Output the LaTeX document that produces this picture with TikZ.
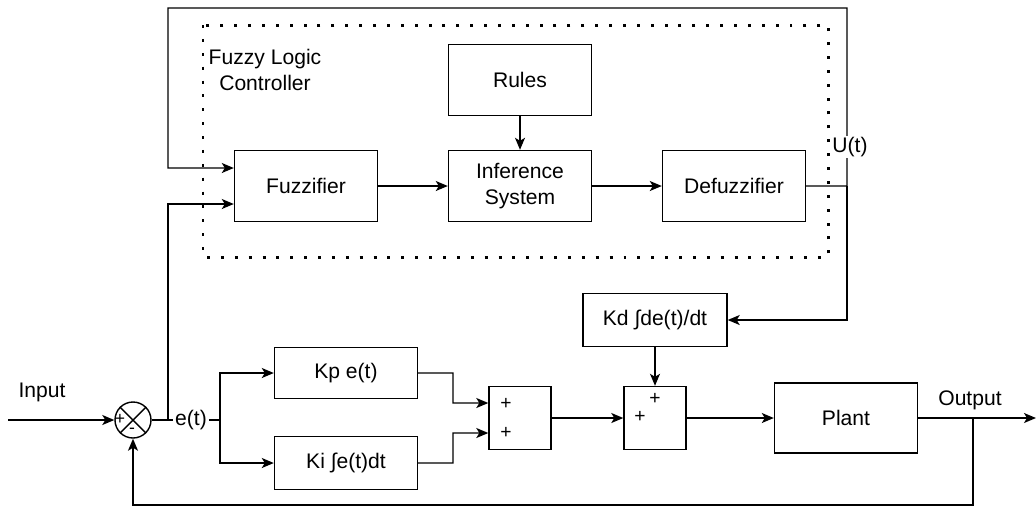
\documentclass[tikz,border=0pt,12pt]{standalone}
\usepackage{fontspec}
\setmainfont{Liberation Sans}
\usetikzlibrary{arrows.meta}

\begin{document}
\begin{tikzpicture}[x=0.2cm,y=-0.2cm,line width=0.8pt,>={Stealth[length=0.24cm,width=0.2cm,inset=0.06cm]}]
    \tikzstyle{B}=[rectangle,draw,thick,line width=0.8pt,minimum width=2.86cm,minimum height=1.42cm,align=center]
    \tikzstyle{S}=[rectangle,draw,line width=0.8pt,minimum width=1.24cm,minimum height=1.26cm]
    \tikzstyle{lbl}=[fill=white,inner sep=1pt]

    \useasboundingbox (0,0) rectangle (103.6,50.8);

    % Fuzzy logic controller
    \draw [line width=1.7pt, dash pattern=on 1.7pt off 6.2pt] (20.3,2.5) rectangle (82.8,25.7);
    \node (flc) at (26.5,7.0) [align=center] {Fuzzy Logic\\Controller};

    \node [B] (fuzz)   at (30.6,18.6) {Fuzzifier};
    \node [B] (rules)  at (52.0,8.0)  {Rules};
    \node [B] (infer)  at (52.0,18.6) {Inference\\System};
    \node [B] (defuzz) at (73.4,18.6) {Defuzzifier};

    \draw [->] (fuzz) -- (infer);
    \draw [->] (infer) -- (defuzz);
    \draw [->] (rules) -- (infer);

    % PID part
    \node [circle,draw,minimum size=0.72cm,inner sep=0pt] (sum) at (13.3,42.0) {};
    \draw (sum.north west) -- (sum.south east);
    \draw (sum.north east) -- (sum.south west);
    \node [font=\footnotesize,inner sep=0pt] (plus) at (12.0,41.9) {+};
    \node [font=\footnotesize,inner sep=0pt] (minus) at (13.2,43.1) {-};

    \node [B,minimum height=1.02cm] (kp) at (34.6,37.3) {Kp e(t)};
    \node [B,minimum height=1.06cm] (ki) at (34.6,46.3) {Ki ∫e(t)dt};
    \node [B,minimum height=1.06cm,minimum width=2.88cm] (kd) at (65.5,32.0) {Kd ∫de(t)/dt};
    \node [S] (sumA) at (52.0,41.8) {};
    \node [S] (sumB) at (65.5,41.8) {};
    \node [B,minimum height=1.4cm] (plant) at (84.6,41.8) {Plant};

    \node [font=\small] (pa) at (50.6,40.4) {+};
    \node [font=\small] (pb) at (50.6,43.3) {+};
    \node [font=\small] (pc) at (65.5,39.9) {+};
    \node [font=\small] (pd) at (64.0,41.7) {+};

    % Signals
    \coordinate (in) at (0.8,42.0);
    \coordinate (ej) at (16.8,42.0);
    \coordinate (br) at (22.0,42.0);
    \coordinate (ut) at (84.7,18.6);
    \coordinate (out) at (103.6,41.8);
    \coordinate (fb) at (97.3,41.8);

    \node (input) at (4.2,39.2) {Input};
    \draw [->] (in) -- (sum);

    \node [lbl] (et) at (19.1,42.0) {e(t)};
    \draw (sum.east) -- (et.west);
    \draw [->] (et.east) -- (br) |- (kp.west);
    \draw [->] (br) |- (ki.west);
    \draw [->] (ej) |- ([yshift=-0.36cm]fuzz.west);

    \draw [->] (defuzz.east) -- (ut) -- (84.7,0.8) -| (16.8,16.8) -- ([yshift=0.36cm]fuzz.west);
    \draw [->] (ut) |- (kd.east);
    \node [lbl,inner sep=0.5pt] (ulabel) at (85.0,14.7) {U(t)};

    \draw [->] (kd) -- (sumB);
    \draw [->] (kp.east) -- (45.3,37.3) -- (45.3,40.3) -- ([yshift=0.3cm]sumA.west);
    \draw [->] (ki.east) -- (45.3,46.3) -- (45.3,43.3) -- ([yshift=-0.3cm]sumA.west);
    \draw [->] (sumA) -- (sumB);
    \draw [->] (sumB) -- (plant);
    \draw [->] (plant) -- (out);
    \node (output) at (97.0,40.0) {Output};

    % Feedback
    \draw [->] (fb) -- (97.3,50.5) -| (sum.south);

\end{tikzpicture}
\end{document}
